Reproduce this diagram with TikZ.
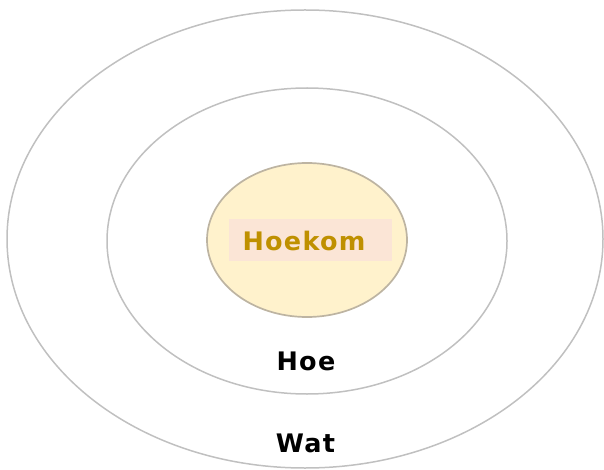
\documentclass[tikz,border=0pt]{standalone}
\usepackage{fontspec}
\setmainfont{DejaVu Sans}
\usetikzlibrary{shapes.geometric}

\definecolor{ringgray}{HTML}{C0C0C0}
\definecolor{coreedge}{HTML}{BDB4A2}
\definecolor{corefill}{HTML}{FFF2CC}
\definecolor{tagfill}{HTML}{FBE5D6}
\definecolor{tagtext}{HTML}{BF9000}

\begin{document}
\begin{tikzpicture}[x=1pt, y=-1pt,
	ring/.style={ellipse, draw=ringgray, line width=1.5pt, inner sep=0pt},
	ringlabel/.style={anchor=base, inner sep=0pt, font=\bfseries\fontsize{25.5}{30}\selectfont\addfontfeature{LetterSpace=5}}]
		\useasboundingbox (0,0) rectangle (604,470);

		% Outer ring
		\node (wat) [ring, minimum width=596, minimum height=458] at (305,239) {};

		% Middle ring
		\node (hoe) [ring, minimum width=400, minimum height=306] at (307,241) {};

		% Core
		\node (hoekom) [ring, draw=coreedge, fill=corefill, line width=1.7pt, minimum width=200, minimum height=154] at (307,240) {};

		% Core tag
		\node (hoekomtag) [rectangle, fill=tagfill, inner sep=0pt, minimum width=163, minimum height=42] at (310.5,240) {};

		% Labels
		\node (hoekomtext) [ringlabel, text=tagtext] at (304,250) {Hoekom};
		\node (hoetext) [ringlabel] at (306,370) {Hoe};
		\node (wattext) [ringlabel] at (305.5,452.5) {Wat};
	\end{tikzpicture}
\end{document}
